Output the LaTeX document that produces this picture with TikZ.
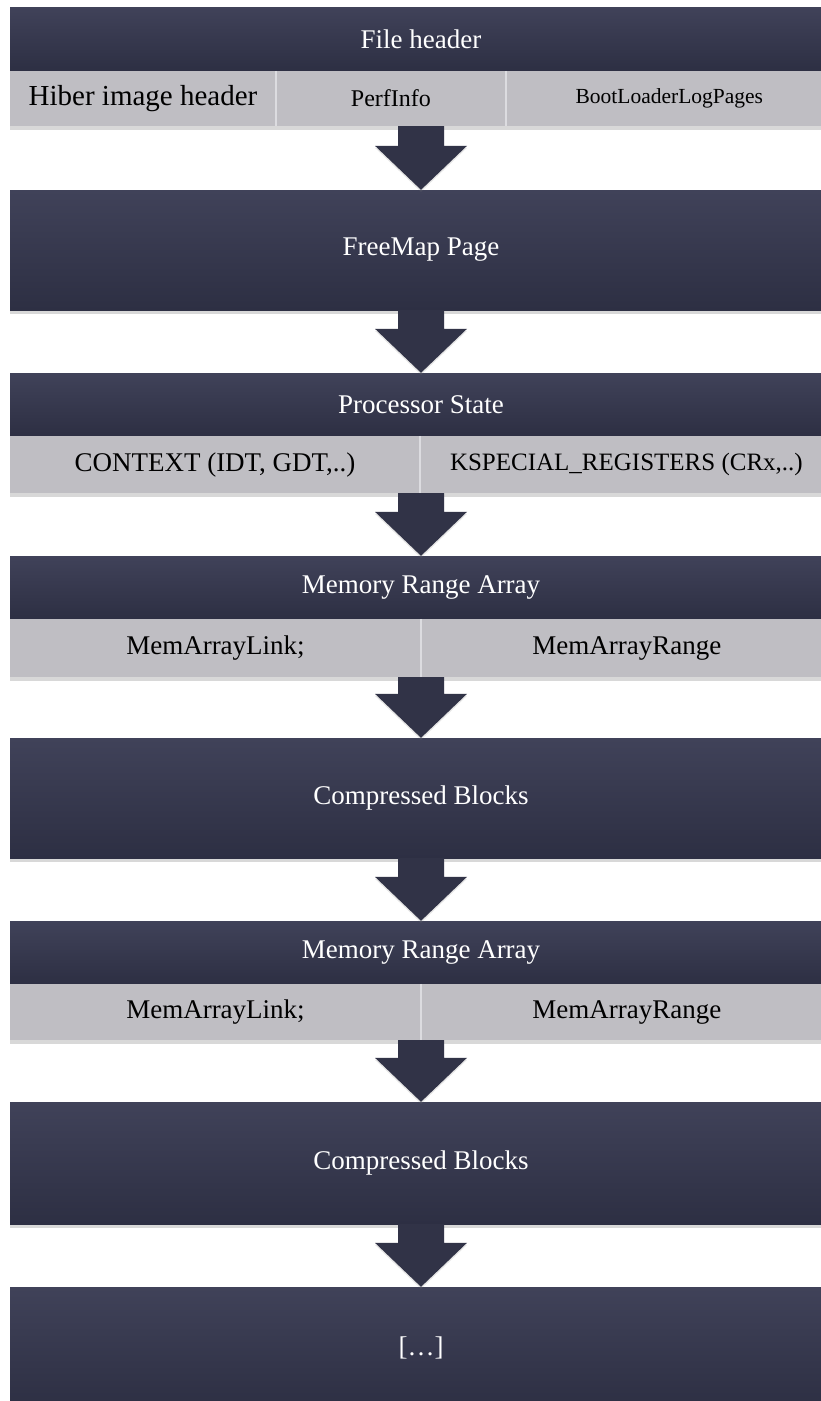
\documentclass[tikz,border=0pt]{standalone}
\usepackage{fontspec}
\setmainfont{Liberation Serif}
\usetikzlibrary{positioning,calc,shadows}
\definecolor{navytop}{RGB}{64,66,89}
\definecolor{navybot}{RGB}{45,47,67}
\definecolor{cellgray}{RGB}{191,190,195}
\definecolor{arrowcol}{RGB}{49,51,71}
\definecolor{seam}{RGB}{220,220,224}

\begin{document}
\begin{tikzpicture}[
        x=1pt, y=-1pt,
        band/.style={rectangle, inner sep=0pt, minimum width=822pt, top color=navytop, bottom color=navybot, text=white, font=\fontsize{27}{32}\selectfont, drop shadow={opacity=0.3, shadow xshift=0pt, shadow yshift=-4pt}},
        row/.style={rectangle, inner sep=0pt, minimum width=822pt, fill=cellgray, drop shadow={opacity=0.3, shadow xshift=0pt, shadow yshift=-4pt}},
        cell/.style={rectangle, inner sep=0pt, anchor=west, font=\fontsize{27}{32}\selectfont},
        seam_line/.style={draw=seam, line width=2pt},
        fat_arrow/.style={fill=arrowcol, drop shadow={opacity=0.2, shadow xshift=0pt, shadow yshift=-2pt}}
    ]
        \useasboundingbox (0,0) rectangle (821,1401);
        \clip (0,0) rectangle (821,1401);
        \fill[white] (0,0) rectangle (821,1401);

        % File header
        \node[band, minimum height=64pt] (fh) at (421,39) {File header};
        \node[row, minimum height=55pt] (fh_row) at (421,98.5) {};
        \node[cell, minimum width=266pt, minimum height=55pt, font=\fontsize{29}{34}\selectfont] (fh_hiber) at (fh_row.west) {Hiber image header};
        \node[cell, minimum width=229pt, minimum height=55pt, font=\fontsize{24}{29}\selectfont, right=0pt of fh_hiber] (fh_perf) {PerfInfo};
        \node[cell, minimum width=327pt, minimum height=55pt, font=\fontsize{21.5}{26}\selectfont, right=0pt of fh_perf] (fh_boot) {BootLoaderLogPages};
        \draw[seam_line] (fh_hiber.north east) -- (fh_hiber.south east);
        \draw[seam_line] (fh_perf.north east) -- (fh_perf.south east);

        % FreeMap page
        \node[band, minimum height=120pt] (freemap) at (421,250) {FreeMap Page};

        % Processor state
        \node[band, minimum height=63pt] (ps) at (421,404.5) {Processor State};
        \node[row, minimum height=57pt] (ps_row) at (421,464.5) {};
        \node[cell, minimum width=410pt, minimum height=57pt] (ps_ctx) at (ps_row.west) {CONTEXT (IDT, GDT,..)};
        \node[cell, minimum width=412pt, minimum height=57pt, font=\fontsize{25}{30}\selectfont, right=0pt of ps_ctx] (ps_regs) {KSPECIAL\_REGISTERS (CRx,..)};
        \draw[seam_line] (ps_ctx.north east) -- (ps_ctx.south east);

        % Memory range array 1
        \node[band, minimum height=63pt] (mra1) at (421,587.5) {Memory Range Array};
        \node[row, minimum height=58pt] (mra1_row) at (421,648) {};
        \node[cell, minimum width=411pt, minimum height=58pt] (mra1_link) at (mra1_row.west) {MemArrayLink;};
        \node[cell, minimum width=411pt, minimum height=58pt, right=0pt of mra1_link] (mra1_range) {MemArrayRange};
        \draw[seam_line] (mra1_link.north east) -- (mra1_link.south east);

        % Compressed blocks 1
        \node[band, minimum height=120pt] (cb1) at (421,798) {Compressed Blocks};

        % Memory range array 2
        \node[band, minimum height=63pt] (mra2) at (421,952.5) {Memory Range Array};
        \node[row, minimum height=56pt] (mra2_row) at (421,1012) {};
        \node[cell, minimum width=411pt, minimum height=56pt] (mra2_link) at (mra2_row.west) {MemArrayLink;};
        \node[cell, minimum width=411pt, minimum height=56pt, right=0pt of mra2_link] (mra2_range) {MemArrayRange};
        \draw[seam_line] (mra2_link.north east) -- (mra2_link.south east);

        % Compressed blocks 2
        \node[band, minimum height=122pt] (cb2) at (421,1163) {Compressed Blocks};

        % More
        \node[band, minimum height=122pt] (etc) at (421,1348) {[…]};

        % Arrows
        \foreach \from/\to in {fh_row/freemap, freemap/ps, ps_row/mra1, mra1_row/cb1, cb1/mra2, mra2_row/cb2, cb2/etc}
            \fill[fat_arrow] ($(\from.south)+(-23,0)$) -- ($(\to.north)+(-23,-44)$) -- ($(\to.north)+(-46,-44)$) -- (\to.north)
                -- ($(\to.north)+(46,-44)$) -- ($(\to.north)+(23,-44)$) -- ($(\from.south)+(23,0)$) -- cycle;
    \end{tikzpicture}
\end{document}
